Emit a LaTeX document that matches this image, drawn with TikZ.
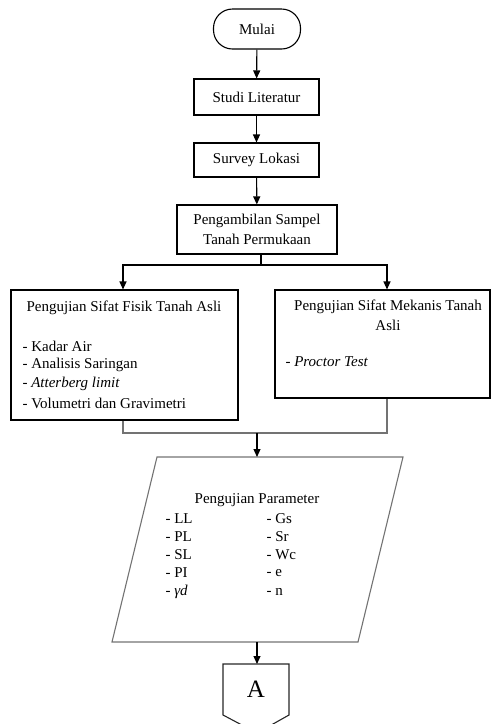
\documentclass[tikz,border=0pt]{standalone}
\usepackage{fontspec}
\setmainfont{Liberation Serif}
\usetikzlibrary{arrows.meta}
\begin{document}
\begin{tikzpicture}[x=1pt,y=-1pt,
  font=\fontsize{15}{20}\selectfont,
  line width=1.1pt,
  box/.style={draw, rectangle, inner sep=0pt, align=center},
  term/.style={draw, rectangle, rounded corners=19pt, inner sep=0pt},
  arr/.style={-{Triangle[length=8pt,width=7pt]}},
  grayline/.style={draw=black!55},
  lbl/.style={inner sep=0pt, anchor=west},
  ctr/.style={inner sep=0pt, align=center}]
\useasboundingbox (0,0) rectangle (491,724);

% nodes
\node[term, minimum width=87pt, minimum height=40pt] (mulai) at (257,29) {Mulai};
\node[box, minimum width=125pt, minimum height=36pt] (studi) at (256.5,97) {Studi Literatur};
\node[box, minimum width=125pt, minimum height=34pt] (survey) at (256.5,160) {Survey Lokasi};
\node[box, minimum width=160pt, minimum height=49pt] (peng) at (257,229.5) {Pengambilan Sampel\\Tanah Permukaan};
\node[box, minimum width=227pt, minimum height=130pt] (fisik) at (124.5,355) {};
\node[box, minimum width=215pt, minimum height=108pt] (mekanis) at (382.5,344) {};

% texts of left box
\node[ctr] (fisikT) at (124,308) {Pengujian Sifat Fisik Tanah Asli};
\node[lbl] (f1) at (22,346) {- Kadar Air};
\node[lbl] (f2) at (22,365) {- Analisis Saringan};
\node[lbl] (f3) at (22,384) {\textit{- Atterberg limit}};
\node[lbl] (f4) at (22,403) {- Volumetri dan Gravimetri};

% texts of right box
\node[ctr] (mekT) at (388,315.5) {Pengujian Sifat Mekanis Tanah\\Asli};
\node[lbl] (m1) at (285,362) {\textit{- Proctor Test}};

% coordinates
\coordinate (xl) at (123,0);
\coordinate (xr) at (387,0);
\coordinate (split) at (261,265);
\coordinate (merge) at (257,433);
\coordinate (ptl) at (157,457);
\coordinate (ptr) at (403,457);
\coordinate (pbr) at (358,642);
\coordinate (pbl) at (112,642);

% parallelogram
\draw[grayline] (ptl) -- (ptr) -- (pbr) -- (pbl) -- cycle;
\node[ctr] (paramT) at (257,500) {Pengujian Parameter};
\node[lbl] (a1) at (165,519) {- LL};
\node[lbl] (a2) at (165,537) {- PL};
\node[lbl] (a3) at (165,555) {- SL};
\node[lbl] (a4) at (165,573) {- PI};
\node[lbl] (a5) at (165,592) {- \textit{γd}};
\node[lbl] (b1) at (266,519) {- Gs};
\node[lbl] (b2) at (266,537) {- Sr};
\node[lbl] (b3) at (266,555) {- Wc};
\node[lbl] (b4) at (266,573) {- e};
\node[lbl] (b5) at (266,592) {- n};

% off-page connector A
\coordinate (ca1) at (223,664);
\coordinate (ca2) at (289,664);
\coordinate (ca3) at (289,715);
\coordinate (ca4) at (257,733);
\coordinate (ca5) at (223,715);
\draw[draw=black!85] (ca1) -- (ca2) -- (ca3) -- (ca4) -- (ca5) -- cycle;
\node[ctr, font=\fontsize{25}{25}\selectfont] (conA) at (256,689) {A};

% connectors
\draw[arr] (mulai) -- (studi);
\draw[arr] (studi) -- (survey);
\draw[arr] (survey) -- (peng);
\draw (split |- peng.south) -- (split);
\draw[arr] (split) -| (xl |- fisik.north);
\draw[arr] (split) -| (xr |- mekanis.north);
\draw[grayline] (xl |- fisik.south) |- (merge) -| (xr |- mekanis.south);
\draw[arr] (merge) -- (merge |- ptl);
\draw[arr] (merge |- pbl) -- (merge |- ca1);
\end{tikzpicture}
\end{document}
